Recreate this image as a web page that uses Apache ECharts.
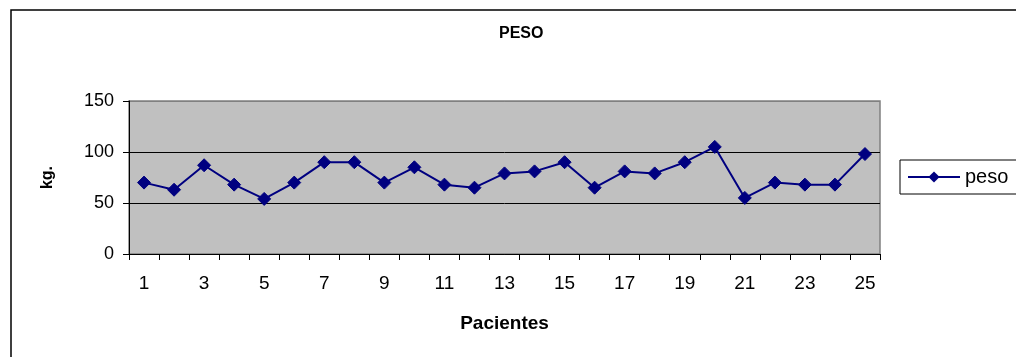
<!DOCTYPE html>
<html>
<head>
<meta charset="utf-8">
<script src="https://cdn.jsdelivr.net/npm/echarts@6/dist/echarts.min.js"></script>
<style>
  html, body { margin: 0; padding: 0; background: #ffffff; }
  #chart { width: 1016px; height: 357px; }
</style>
</head>
<body>
<div id="chart"></div>
<script>
// Patient numbers and body weight (kg)
const pacientes = ['1','2','3','4','5','6','7','8','9','10','11','12','13','14','15','16','17','18','19','20','21','22','23','24','25'];
const peso = [70, 63, 87, 68, 54, 70, 90, 90, 70, 85, 68, 65, 79, 81, 90, 65, 81, 79, 90, 105, 55, 70, 68, 68, 98];

const FONT = '"Liberation Sans", Arial, sans-serif';
const chart = echarts.init(document.getElementById('chart'), null, { renderer: 'canvas' });

chart.setOption({
  backgroundColor: '#ffffff',
  animation: false,
  textStyle: { fontFamily: FONT },
  graphic: [{
    type: 'rect',
    shape: { x: 11, y: 10, width: 1100, height: 400 },
    style: { fill: 'none', stroke: '#000000', lineWidth: 1.5 },
    silent: true,
    z: -10
  }],
  title: {
    text: 'PESO',
    left: 494,
    top: 21,
    textStyle: { fontFamily: FONT, fontSize: 16, fontWeight: 'bold', color: '#000000' }
  },
  legend: {
    left: 900,
    top: 160,
    padding: [7, 20, 7, 7],
    itemWidth: 52,
    itemHeight: 14,
    borderColor: '#000000',
    borderWidth: 1,
    backgroundColor: '#ffffff',
    textStyle: { fontFamily: FONT, fontSize: 20, color: '#000000' },
    data: ['peso']
  },
  grid: {
    left: 129,
    right: 136,
    top: 101,
    bottom: 103,
    show: true,
    backgroundColor: '#C0C0C0',
    borderColor: '#808080',
    borderWidth: 1.5
  },
  xAxis: {
    type: 'category',
    data: pacientes,
    boundaryGap: true,
    name: 'Pacientes',
    nameLocation: 'middle',
    nameGap: 60,
    nameTextStyle: { fontFamily: FONT, fontSize: 19, fontWeight: 'bold', color: '#000000' },
    axisLine: { lineStyle: { color: '#000000', width: 1 } },
    axisTick: { show: true, interval: 0, length: 6, lineStyle: { color: '#000000' } },
    axisLabel: { interval: 1, margin: 20, fontSize: 19, color: '#000000', fontFamily: FONT },
    splitLine: { show: false }
  },
  yAxis: {
    type: 'value',
    min: 0,
    max: 150,
    interval: 50,
    name: 'kg.',
    nameLocation: 'middle',
    nameGap: 73,
    nameTextStyle: { fontFamily: FONT, fontSize: 16, fontWeight: 'bold', color: '#000000' },
    axisLine: { show: true, lineStyle: { color: '#000000', width: 1 } },
    axisTick: { show: true, length: 6, lineStyle: { color: '#000000' } },
    axisLabel: { margin: 15, fontSize: 18, color: '#000000', fontFamily: FONT },
    splitLine: { show: true, lineStyle: { color: ['#000000', '#000000', '#000000', '#808080'], width: 1 } }
  },
  series: [{
    name: 'peso',
    type: 'line',
    data: peso,
    symbol: 'diamond',
    symbolSize: 13,
    showAllSymbol: true,
    lineStyle: { color: '#000080', width: 2 },
    itemStyle: { color: '#000080', borderColor: '#000080' }
  }]
});
</script>
</body>
</html>
